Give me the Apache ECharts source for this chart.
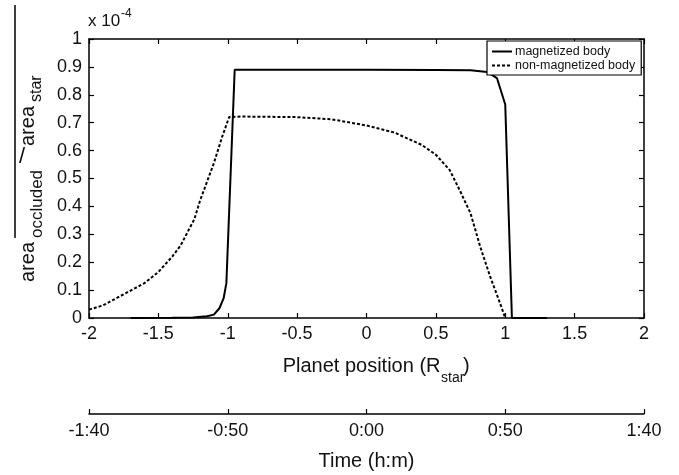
<!DOCTYPE html>
<html>
<head>
<meta charset="utf-8">
<script src="https://cdn.jsdelivr.net/npm/echarts@6/dist/echarts.min.js"></script>
<style>
html,body{margin:0;padding:0;background:#fff;}
#c{width:679px;height:475px;}
</style>
</head>
<body>
<div id="c"></div>
<script>
// ---- data ----
const xMag = [-1.7, -1.4, -1.25, -1.15, -1.1, -1.06, -1.03, -1.01, -0.95, -0.5, 0, 0.5, 0.75, 0.87, 0.94, 1.0, 1.048, 1.3];
const yMag = [0, 0.0005, 0.002, 0.006, 0.012, 0.035, 0.07, 0.125, 0.89, 0.89, 0.89, 0.889, 0.888, 0.882, 0.86, 0.765, 0, 0];
const xNon = [-2, -1.9, -1.75, -1.6, -1.5, -1.4, -1.34, -1.24, -1.2, -1.1, -1.04, -0.99, -0.9, -0.5, -0.25, 0, 0.2, 0.4, 0.5, 0.6, 0.67, 0.75, 0.82, 0.89, 0.95, 1.0];
const yNon = [0.03, 0.045, 0.085, 0.125, 0.165, 0.22, 0.26, 0.355, 0.42, 0.555, 0.65, 0.72, 0.722, 0.72, 0.712, 0.69, 0.665, 0.62, 0.585, 0.53, 0.46, 0.375, 0.255, 0.15, 0.07, 0];
const seriesNames = ['magnetized body', 'non-magnetized body'];
const yTickLabels = ['0', '0.1', '0.2', '0.3', '0.4', '0.5', '0.6', '0.7', '0.8', '0.9', '1'];
const timeTickLabels = ['-1:40', '-0:50', '0:00', '0:50', '1:40'];

const FONT = '"Liberation Sans", Arial, sans-serif';
const zip = (a, b) => a.map((v, i) => [v, b[i]]);
const axisLine = { show: true, onZero: false, lineStyle: { color: '#000', width: 1.5 } };
const tickIn = { show: true, inside: true, length: 5, lineStyle: { color: '#000', width: 1.2 } };

const chart = echarts.init(document.getElementById('c'), null, { renderer: 'canvas' });
chart.setOption({
  animation: false,
  backgroundColor: '#fff',
  textStyle: { fontFamily: FONT },
  grid: [
    { left: 89, right: 35, top: 39, bottom: 157 },
    { left: 89, right: 35, top: 413, height: 1 }
  ],
  xAxis: [
    { type: 'value', gridIndex: 0, min: -2, max: 2, interval: 0.5, position: 'bottom',
      axisLine: axisLine, axisTick: tickIn, splitLine: { show: false },
      axisLabel: { color: '#111', fontSize: 18, margin: 7, fontFamily: FONT } },
    { type: 'value', gridIndex: 0, min: -2, max: 2, interval: 0.5, position: 'top',
      axisLine: axisLine, axisTick: tickIn, splitLine: { show: false }, axisLabel: { show: false } },
    { type: 'value', gridIndex: 1, min: -2, max: 2, interval: 1, position: 'bottom',
      axisLine: axisLine, axisTick: tickIn, splitLine: { show: false },
      axisLabel: { color: '#111', fontSize: 18, margin: 8, fontFamily: FONT,
        formatter: (v) => timeTickLabels[Math.round(v + 2)] } }
  ],
  yAxis: [
    { type: 'value', gridIndex: 0, min: 0, max: 1, interval: 0.1, position: 'left',
      axisLine: axisLine, axisTick: tickIn, splitLine: { show: false },
      axisLabel: { color: '#111', fontSize: 18, margin: 7, fontFamily: FONT,
        formatter: (v) => yTickLabels[Math.round(v * 10)] } },
    { type: 'value', gridIndex: 0, min: 0, max: 1, interval: 0.1, position: 'right',
      axisLine: axisLine, axisTick: tickIn, splitLine: { show: false }, axisLabel: { show: false } },
    { type: 'value', gridIndex: 1, min: 0, max: 1, show: false }
  ],
  legend: {
    orient: 'vertical', left: 487, top: 41,
    padding: [4, 6, 3, 4], itemGap: 1, itemWidth: 20, itemHeight: 14,
    backgroundColor: '#fff', borderColor: '#000', borderWidth: 1.2, borderRadius: 0,
    itemStyle: { opacity: 0, borderWidth: 0 },
    textStyle: { fontSize: 12.5, color: '#111', fontFamily: FONT, padding: [0, 0, 0, -2] },
    data: seriesNames.map(n => ({ name: n }))
  },
  series: [
    { name: seriesNames[0], type: 'line', xAxisIndex: 0, yAxisIndex: 0, data: zip(xMag, yMag),
      showSymbol: false, symbol: 'none', lineStyle: { color: '#000', width: 2 }, itemStyle: { color: '#000' } },
    { name: seriesNames[1], type: 'line', xAxisIndex: 0, yAxisIndex: 0, data: zip(xNon, yNon),
      showSymbol: false, symbol: 'none', lineStyle: { color: '#000', width: 2, type: [3, 2] }, itemStyle: { color: '#000' } },
    { type: 'line', xAxisIndex: 2, yAxisIndex: 2, data: [], silent: true }
  ],
  graphic: [
    // exponent marker
    { type: 'text', left: 88, top: 13, style: { text: 'x 10', font: '17px ' + FONT, fill: '#111' } },
    { type: 'text', left: 121, top: 8, style: { text: '-4', font: '12px ' + FONT, fill: '#111' } },
    // stray vertical line left of the y label
    { type: 'line', shape: { x1: 15, y1: 5, x2: 15, y2: 238 }, style: { stroke: '#000', lineWidth: 1.5 } },
    // y-axis title pieces (rotated)
    { type: 'text', x: 28, y: 282, rotation: Math.PI / 2,
      style: { text: 'area', font: '20px ' + FONT, fill: '#111', align: 'left', verticalAlign: 'middle' } },
    { type: 'text', x: 37, y: 238, rotation: Math.PI / 2,
      style: { text: 'occluded', font: '17px ' + FONT, fill: '#111', align: 'left', verticalAlign: 'middle' } },
    { type: 'text', x: 22, y: 157,
      style: { text: '/', font: '22px ' + FONT, fill: '#111', align: 'center', verticalAlign: 'middle' } },
    { type: 'text', x: 28, y: 146, rotation: Math.PI / 2,
      style: { text: 'area', font: '20px ' + FONT, fill: '#111', align: 'left', verticalAlign: 'middle' } },
    { type: 'text', x: 37, y: 102, rotation: Math.PI / 2,
      style: { text: 'star', font: '16px ' + FONT, fill: '#111', align: 'left', verticalAlign: 'middle' } },
    // x-axis title pieces
    { type: 'text', x: 440.5, y: 366.5,
      style: { text: 'Planet position (R', font: '20px ' + FONT, fill: '#111', align: 'right', verticalAlign: 'middle' } },
    { type: 'text', x: 441, y: 378.5,
      style: { text: 'star', font: '14px ' + FONT, fill: '#111', align: 'left', verticalAlign: 'middle' } },
    { type: 'text', x: 463, y: 366.5,
      style: { text: ')', font: '20px ' + FONT, fill: '#111', align: 'left', verticalAlign: 'middle' } },
    // time axis title
    { type: 'text', x: 366.5, y: 461.5,
      style: { text: 'Time (h:m)', font: '20px ' + FONT, fill: '#111', align: 'center', verticalAlign: 'middle' } }
  ]
});
</script>
</body>
</html>
